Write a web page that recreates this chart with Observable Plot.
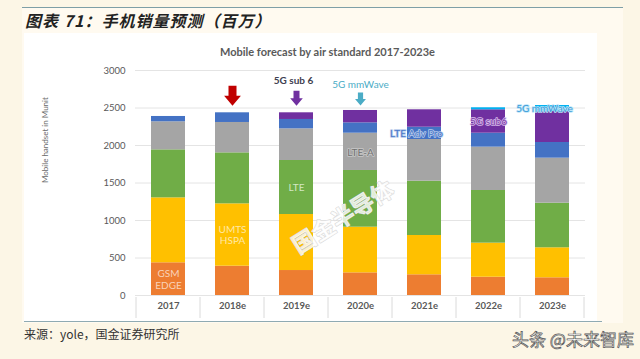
<!DOCTYPE html>
<html>
<head>
<meta charset="utf-8">
<script src="https://cdn.jsdelivr.net/npm/d3@7"></script>
<script src="https://cdn.jsdelivr.net/npm/@observablehq/plot@0.6"></script>
<style>
  html, body { margin: 0; padding: 0; }
  body { width: 640px; height: 359px; background: #FCF6E6; position: relative; overflow: hidden; font-family: "Noto Sans CJK SC", sans-serif; }
  .panel { position: absolute; left: 22px; top: 7px; width: 601px; height: 315px; background: #FFFAF0; border-top: 1.5px solid #7E9FA6; }
  .white { position: absolute; left: 24px; top: 33px; width: 573px; height: 288px; background: #FFFFFF; }
  .bottomrule { position: absolute; left: 24px; top: 321px; width: 578px; height: 1.2px; background: #8FAAB2; }
  .title { position: absolute; left: 25px; top: 8px; font-size: 16px; font-weight: bold; font-style: italic; color: #222; letter-spacing: 1px; white-space: nowrap; }
  .ctitle { position: absolute; left: 220px; top: 45px; font-family: Lato, sans-serif; font-weight: bold; font-size: 11px; color: #5a5a5a; white-space: nowrap; }
  .source { position: absolute; left: 24px; top: 325px; font-size: 12px; color: #333; white-space: nowrap; }
  .wm { position: absolute; left: 512px; top: 326px; font-size: 17px; color: #fff; -webkit-text-stroke: 0.7px #555; white-space: nowrap; }
  #chart { position: absolute; left: 0; top: 60px; }
  #chart svg { background: transparent !important; }
  #chart svg [aria-label^="x-axis"] text { font-weight: bold; }
</style>
</head>
<body>
<div class="panel"></div>
<div class="white"></div>
<div class="bottomrule"></div>
<div class="title">图表 71：手机销量预测（百万）</div>
<div class="ctitle">Mobile forecast by air standard 2017-2023e</div>
<div id="chart"></div>
<div class="source">来源：yole，国金证券研究所</div>
<div class="wm">头条 @未来智库</div>
<script>
// ---- data (millions of units) ----
const years = ["2017", "2018e", "2019e", "2020e", "2021e", "2022e", "2023e"];
const seriesNames = ["GSM/EDGE", "UMTS/HSPA", "LTE", "LTE-A", "LTE Adv Pro", "5G sub 6", "5G mmWave"];
const seriesColors = ["#ED7D31", "#FFC000", "#70AD47", "#A5A5A5", "#4472C4", "#7030A0", "#00B0F0"];
const gsm    = [436, 391, 333, 302, 276, 244, 236];
const umts   = [866, 831, 747, 609, 524, 454, 400];
const lte    = [640, 680, 720, 756, 724, 702, 595];
const lteA   = [374, 405, 422, 497, 556, 578, 600];
const ltePro = [71, 129, 125, 138, 164, 186, 209];
const sub6   = [0, 0, 89, 165, 232, 312, 417];
const mmwave = [0, 0, 0, 0, 0, 27, 76];
const yTicks = [0, 500, 1000, 1500, 2000, 2500, 3000];

// labels drawn inside the bars
const segLabels = [
  {year: "2017",  series: "GSM/EDGE",    text: "GSM\nEDGE",   color: "#F9D2B8", halo: null,      shift: false},
  {year: "2018e", series: "UMTS/HSPA",   text: "UMTS\nHSPA",  color: "#FFE8A6", halo: null,      shift: false},
  {year: "2019e", series: "LTE",         text: "LTE",         color: "#D3E8C4", halo: null,      shift: false},
  {year: "2020e", series: "LTE-A",       text: "LTE-A",       color: "#707070", halo: "#C8C8C8", shift: false},
  {year: "2021e", series: "LTE Adv Pro", text: "LTE Adv Pro", color: "#4A78C8", halo: "#B8CCEC", shift: true},
  {year: "2022e", series: "5G sub 6",    text: "5G sub6",     color: "#7A3AA8", halo: "#D8BCEB", shift: false},
  {year: "2023e", series: "5G mmWave",   text: "5G mmWave",   color: "#3A9BD8", halo: "#BFE6F8", shift: true}
];
// arrows + labels above the bars
const arrows = [
  {year: "2018e", tip: 2530, len: 20, color: "#C00000", label: "",          labelY: 0,    labelColor: ""},
  {year: "2019e", tip: 2530, len: 15, color: "#7030A0", label: "5G sub 6",  labelY: 2860, labelColor: "#404050"},
  {year: "2020e", tip: 2535, len: 13, color: "#4BACC6", label: "5G mmWave", labelY: 2815, labelColor: "#4BACC6"}
];

// ---- build tables ----
const valueArrays = [gsm, umts, lte, lteA, ltePro, sub6, mmwave];
const tidy = years.flatMap((yr, i) => seriesNames.map((s, j) => ({year: yr, series: s, value: valueArrays[j][i]})));
function midOf(yr, s) {
  const i = years.indexOf(yr), j = seriesNames.indexOf(s);
  let base = 0;
  for (let k = 0; k < j; k++) base += valueArrays[k][i];
  return base + valueArrays[j][i] / 2;
}
segLabels.forEach(d => d.y = midOf(d.year, d.series));

const blockArrow = {
  draw(ctx, l) {
    const hw = l * 0.42, sw = l * 0.2, hl = l * 0.5;
    ctx.moveTo(-sw, 0);
    ctx.lineTo(-sw, -(l - hl));
    ctx.lineTo(-hw, -(l - hl));
    ctx.lineTo(0, -l);
    ctx.lineTo(hw, -(l - hl));
    ctx.lineTo(sw, -(l - hl));
    ctx.lineTo(sw, 0);
    ctx.closePath();
  }
};

const plot = Plot.plot({
  width: 640,
  height: 262,
  marginLeft: 135,
  marginRight: 55,
  marginTop: 10,
  marginBottom: 27,
  style: {background: "transparent", fontFamily: "Lato, sans-serif", fontSize: "9.5px", color: "#595959"},
  x: {domain: years, padding: 0, tickSize: 0, tickPadding: 7, label: null},
  y: {domain: [0, 3000], ticks: yTicks, tickSize: 0, tickPadding: 10, label: null, tickFormat: d => String(d)},
  color: {domain: seriesNames, range: seriesColors},
  marks: [
    Plot.ruleY(yTicks, {stroke: "#E4E4E4", strokeWidth: 1}),
    Plot.barY(tidy, {x: "year", y: "value", fill: "series", insetLeft: 15, insetRight: 15}),
    ...segLabels.map(d => Plot.text([d], {
      x: "year", y: "y", text: "text", fill: d.color, fontSize: 10, lineHeight: 1.15,
      dx: d.shift ? -8 : 0, fontFamily: "Lato, sans-serif",
      ...(d.halo ? {stroke: d.halo, strokeWidth: 1.6} : {})
    })),
    ...arrows.map(a => Plot.vector([a], {
      x: "year", y: "tip", length: a.len, rotate: 180, anchor: "end",
      shape: blockArrow, fill: a.color, stroke: "none"
    })),
    ...arrows.filter(a => a.label).map(a => Plot.text([a], {
      x: "year", y: "labelY", text: "label", fill: a.labelColor, fontSize: 10,
      fontWeight: a.label === "5G sub 6" ? "bold" : "normal", dx: a.label === "5G sub 6" ? -3 : 0
    })),
    Plot.text(["国金半导体"], {
      frameAnchor: "middle", dx: -17, dy: 35, rotate: -32, fontSize: 23, fontWeight: "bold",
      fontFamily: "Noto Sans CJK SC", fill: "white", fillOpacity: 0.8, stroke: "#d6d6d6", strokeWidth: 1
    }),
    Plot.text(["Mobile handset in Munit"], {
      frameAnchor: "left", dx: -90, rotate: -90, fontSize: 8, fill: "#6a6a6a"
    })
  ]
});
document.getElementById("chart").appendChild(plot);

// category separators under the bars (x-axis table look)
const xs = plot.scale("x"), ys = plot.scale("y");
const y0 = ys.apply(0);
const edges = years.map(yr => xs.apply(yr)).concat([xs.apply(years[years.length - 1]) + xs.bandwidth]);
d3.select(plot).append("g")
  .selectAll("line").data(edges).join("line")
  .attr("x1", d => d).attr("x2", d => d)
  .attr("y1", y0 + 2).attr("y2", y0 + 23)
  .attr("stroke", "#DADADA").attr("stroke-width", 1);
</script>
</body>
</html>
